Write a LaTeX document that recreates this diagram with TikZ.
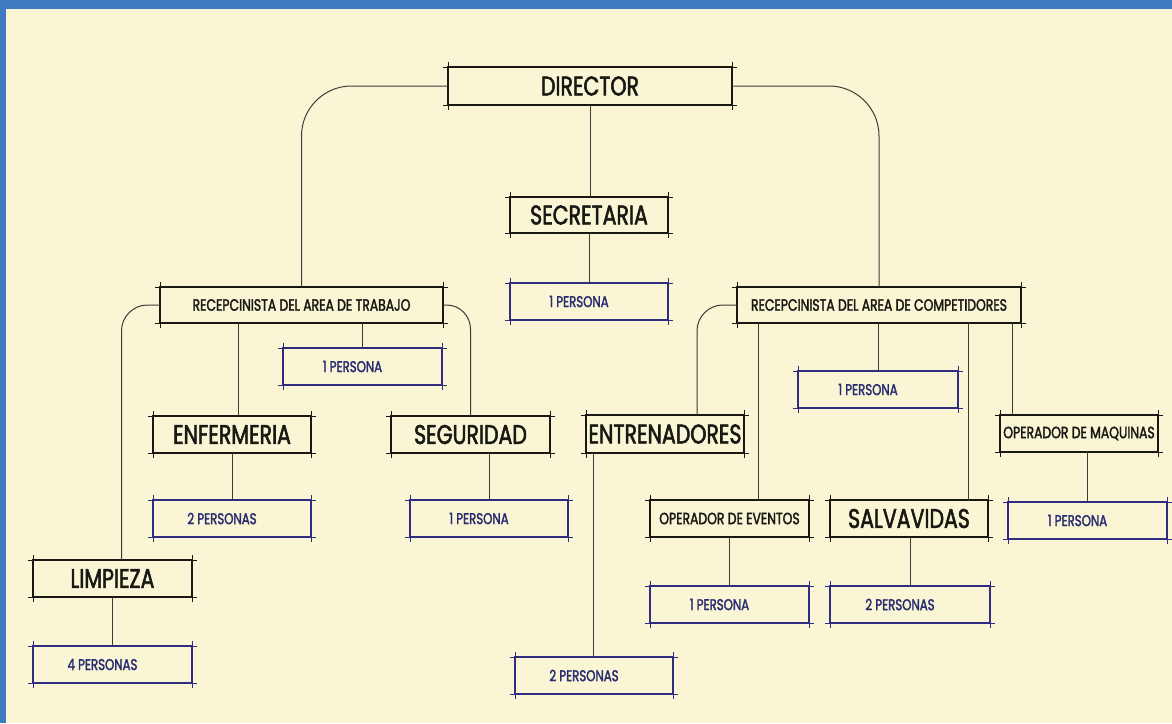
\documentclass[tikz,border=0pt]{standalone}
\usepackage{fontspec}
\newfontfamily\gf[FakeStretch=0.76,FakeBold=2]{Poppins}
\definecolor{cream}{RGB}{250,245,213}
\definecolor{bandblue}{RGB}{64,122,192}
\definecolor{navy}{RGB}{48,44,128}
\definecolor{navytext}{RGB}{40,44,112}
\definecolor{ink}{RGB}{25,25,20}
\definecolor{wirec}{RGB}{60,60,55}
\tikzset{
 titlebox/.style={draw=ink, line width=2.3pt, inner sep=0pt, outer sep=0pt, text=ink, font=\gf\fontsize{27}{27}\selectfont, minimum height=37pt, minimum width=158pt},
 smalltitle/.style={titlebox, font=\gf\fontsize{16.3}{16.3}\selectfont},
 personabox/.style={draw=navy, line width=2pt, inner sep=0pt, outer sep=0pt, text=navytext, font=\gf\fontsize{15.5}{15.5}\selectfont, minimum height=37pt, minimum width=158pt, execute at end node={\hspace*{20pt}}},
 wire/.style={draw=wirec, line width=1pt},
 tick/.style={line width=0.6pt}
}
\newcommand\crops[2]{%
 \draw[tick,#2] ([xshift=-5pt]#1.north west) -- ([xshift=5pt]#1.north east);
 \draw[tick,#2] ([xshift=-5pt]#1.south west) -- ([xshift=5pt]#1.south east);
 \draw[tick,#2] ([yshift=5pt]#1.north west) -- ([yshift=-5pt]#1.south west);
 \draw[tick,#2] ([yshift=5pt]#1.north east) -- ([yshift=-5pt]#1.south east);
}
\begin{document}
\begin{tikzpicture}[x=1pt,y=-1pt]
\useasboundingbox (0,0) rectangle (1172,723);
\fill[cream] (0,0) rectangle (1172,723);
\fill[bandblue] (0,0) rectangle (1172,9);
\fill[bandblue] (0,0) rectangle (6,723);
% title boxes
\node[titlebox, minimum width=284pt, minimum height=38pt, font=\gf\fontsize{27}{27}\selectfont] (dir) at (590,86) {DIRECTOR};
\node[titlebox, minimum height=36pt] (sec) at (589,215) {SECRETARIA};
\node[smalltitle, minimum width=283pt, minimum height=36pt] (rtr) at (301.5,305) {RECEPCINISTA DEL AREA DE TRABAJO};
\node[smalltitle, minimum width=284pt, minimum height=36pt] (rco) at (879,305) {RECEPCINISTA DEL AREA DE COMPETIDORES};
\node[titlebox] (enf) at (232,434.5) {ENFERMERIA};
\node[titlebox, minimum width=159pt] (seg) at (470.5,434.5) {SEGURIDAD};
\node[titlebox, minimum width=159pt] (lim) at (112.5,578.5) {LIMPIEZA};
\node[titlebox, minimum height=38pt] (ent) at (665,434) {ENTRENADORES};
\node[smalltitle, minimum width=159pt] (ope) at (729.5,518.5) {OPERADOR DE EVENTOS};
\node[titlebox] (sal) at (909,518.5) {SALVAVIDAS};
\node[smalltitle] (opm) at (1079,433.5) {OPERADOR DE MAQUINAS};
% persona boxes
\node[personabox] (psec) at (589,301.5) {1 PERSONA};
\node[personabox, minimum width=159pt] (prtr) at (362.5,366.5) {1 PERSONA};
\node[personabox] (penf) at (232,518.5) {2 PERSONAS};
\node[personabox] (pseg) at (489,518.5) {1 PERSONA};
\node[personabox, minimum width=159pt] (plim) at (112.5,664.5) {4 PERSONAS};
\node[personabox, minimum width=160pt] (prco) at (878,389.5) {1 PERSONA};
\node[personabox] (pent) at (594,675.5) {2 PERSONAS};
\node[personabox, minimum width=159pt] (pope) at (729.5,604.5) {1 PERSONA};
\node[personabox, minimum width=160pt] (psal) at (910,604.5) {2 PERSONAS};
\node[personabox, minimum width=159pt] (popm) at (1087.5,520.5) {1 PERSONA};
% crop marks
\foreach \n in {dir,sec,rtr,rco,enf,seg,lim,ent,ope,sal,opm}{\crops{\n}{ink}}
\foreach \n in {psec,prtr,penf,pseg,plim,prco,pent,pope,psal,popm}{\crops{\n}{navy}}
% connectors
\draw[wire, rounded corners=50pt] (dir.west) -| (rtr.north);
\draw[wire, rounded corners=50pt] (dir.east) -| (rco.north);
\draw[wire] (dir.south) -- (dir.south |- sec.north);
\draw[wire] (psec.north) -- (psec.north |- sec.south);
\coordinate (limin) at ([xshift=9pt]lim.north);
\draw[wire, rounded corners=26pt] (rtr.west) -| (limin);
\draw[wire, rounded corners=24pt] (rtr.east) -| (seg.north);
\coordinate (enfin) at ([xshift=6pt]enf.north);
\draw[wire] (enfin) -- (enfin |- rtr.south);
\draw[wire] (prtr.north) -- (prtr.north |- rtr.south);
\draw[wire] (penf.north) -- (penf.north |- enf.south);
\draw[wire] (pseg.north) -- (pseg.north |- seg.south);
\draw[wire] (plim.north) -- (plim.north |- lim.south);
\coordinate (entin) at ([xshift=32pt]ent.north);
\draw[wire, rounded corners=26pt] (rco.west) -| (entin);
\coordinate (opein) at ([xshift=28.5pt]ope.north);
\draw[wire] (opein) -- (opein |- rco.south);
\draw[wire] (prco.north) -- (prco.north |- rco.south);
\coordinate (salin) at ([xshift=59pt]sal.north);
\draw[wire] (salin) -- (salin |- rco.south);
\coordinate (opmin) at ([xshift=-67pt]opm.north);
\draw[wire] (opmin) -- (opmin |- rco.south);
\draw[wire] (popm.north) -- (popm.north |- opm.south);
\coordinate (pentin) at ([xshift=-1pt]pent.north);
\draw[wire] (pentin) -- (pentin |- ent.south);
\draw[wire] (pope.north) -- (pope.north |- ope.south);
\draw[wire] (psal.north) -- (psal.north |- sal.south);
\end{tikzpicture}
\end{document}
